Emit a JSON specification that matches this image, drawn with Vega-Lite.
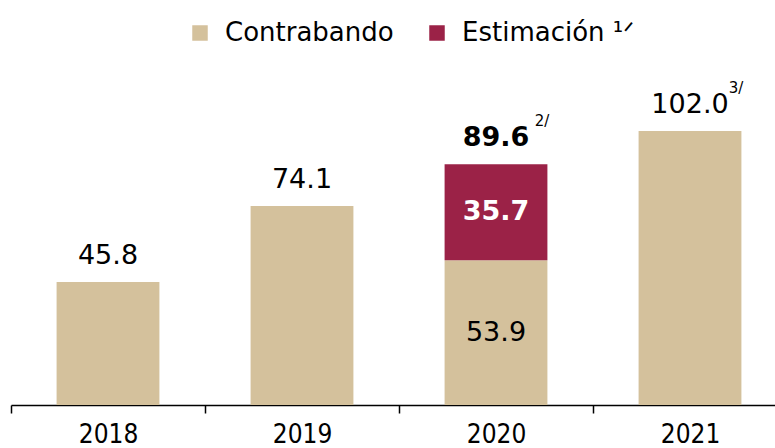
{
  "$schema": "https://vega.github.io/schema/vega-lite/v6.json",
  "width": 764,
  "height": 325,
  "autosize": {"type": "none"},
  "padding": {"left": 11, "top": 80, "right": 0, "bottom": 43},
  "config": {"view": {"stroke": null}, "font": "DejaVu Sans", "text": {"font": "DejaVu Sans"}},
  "data": {
    "values": [
      {"year": "2018", "tipo": "Contrabando", "value": 45.8, "note": ""},
      {"year": "2019", "tipo": "Contrabando", "value": 74.1, "note": ""},
      {"year": "2020", "tipo": "Contrabando", "value": 53.9, "note": "2/"},
      {"year": "2020", "tipo": "Estimación", "value": 35.7, "note": ""},
      {"year": "2021", "tipo": "Contrabando", "value": 102.0, "note": "3/"}
    ]
  },
  "encoding": {
    "x": {
      "field": "year",
      "type": "ordinal",
      "scale": {"range": [0, 776], "paddingInner": 0.47, "paddingOuter": 0.235},
      "axis": {
        "title": null,
        "labelAngle": 0,
        "tickOffset": -97,
        "labelOffset": 97,
        "domainColor": "#000",
        "domainWidth": 1.5,
        "tickColor": "#000",
        "tickWidth": 1.5,
        "tickSize": 8,
        "labelFont": "'DejaVu Sans Condensed', Roboto, sans-serif",
        "labelFontSize": 26,
        "labelColor": "#000",
        "labelPadding": 8
      }
    }
  },
  "layer": [
    {
      "mark": {"type": "bar"},
      "encoding": {
        "y": {"field": "value", "type": "quantitative", "aggregate": "sum", "scale": {"domain": [0, 121], "nice": false}, "axis": null},
        "order": {"field": "tipo", "sort": "ascending"},
        "color": {
          "field": "tipo",
          "type": "nominal",
          "scale": {"domain": ["Contrabando", "Estimación"], "range": ["#D4C19C", "#9B2247"]},
          "legend": {
            "title": null,
            "orient": "none",
            "direction": "horizontal",
            "legendX": 176,
            "legendY": -60,
            "symbolType": "square",
            "symbolSize": 240,
            "symbolStrokeWidth": 0,
            "labelFont": "DejaVu Sans",
            "labelFontSize": 26,
            "labelColor": "#000",
            "labelOffset": 12,
            "columnPadding": 30,
            "labelLimit": 300,
            "labelExpr": "datum.label == 'Estimación' ? 'Estimación ¹ᐟ' : datum.label"
          }
        }
      }
    },
    {
      "transform": [
        {"aggregate": [{"op": "sum", "field": "value", "as": "total"}], "groupby": ["year"]},
        {"filter": "datum.year != '2020'"}
      ],
      "mark": {"type": "text", "fontSize": 27, "baseline": "alphabetic", "dy": -18, "color": "#000"},
      "encoding": {
        "y": {"field": "total", "type": "quantitative"},
        "text": {"field": "total", "type": "quantitative", "format": ".1f"}
      }
    },
    {
      "transform": [
        {"aggregate": [{"op": "sum", "field": "value", "as": "total"}], "groupby": ["year"]},
        {"filter": "datum.year == '2020'"}
      ],
      "mark": {"type": "text", "fontSize": 27, "fontWeight": "bold", "baseline": "alphabetic", "dy": -18, "color": "#000"},
      "encoding": {
        "y": {"field": "total", "type": "quantitative"},
        "text": {"field": "total", "type": "quantitative", "format": ".1f"}
      }
    },
    {
      "transform": [
        {"joinaggregate": [{"op": "sum", "field": "value", "as": "total"}], "groupby": ["year"]},
        {"filter": "datum.note != ''"}
      ],
      "mark": {"type": "text", "fontSize": 15, "baseline": "alphabetic", "dx": 46, "dy": -38, "color": "#000"},
      "encoding": {
        "y": {"field": "total", "type": "quantitative"},
        "text": {"field": "note", "type": "nominal"}
      }
    },
    {
      "transform": [
        {"filter": "datum.year == '2020'"},
        {"stack": "value", "groupby": ["year"], "sort": [{"field": "tipo", "order": "ascending"}], "as": ["v0", "v1"]},
        {"calculate": "(datum.v0 + datum.v1) / 2", "as": "mid"},
        {"filter": "datum.tipo == 'Contrabando'"}
      ],
      "mark": {"type": "text", "fontSize": 27, "baseline": "middle", "color": "#000"},
      "encoding": {
        "y": {"field": "mid", "type": "quantitative"},
        "text": {"field": "value", "type": "quantitative", "format": ".1f"}
      }
    },
    {
      "transform": [
        {"filter": "datum.year == '2020'"},
        {"stack": "value", "groupby": ["year"], "sort": [{"field": "tipo", "order": "ascending"}], "as": ["v0", "v1"]},
        {"calculate": "(datum.v0 + datum.v1) / 2", "as": "mid"},
        {"filter": "datum.tipo == 'Estimación'"}
      ],
      "mark": {"type": "text", "fontSize": 27, "fontWeight": "bold", "baseline": "middle", "color": "#fff"},
      "encoding": {
        "y": {"field": "mid", "type": "quantitative"},
        "text": {"field": "value", "type": "quantitative", "format": ".1f"}
      }
    }
  ]
}
